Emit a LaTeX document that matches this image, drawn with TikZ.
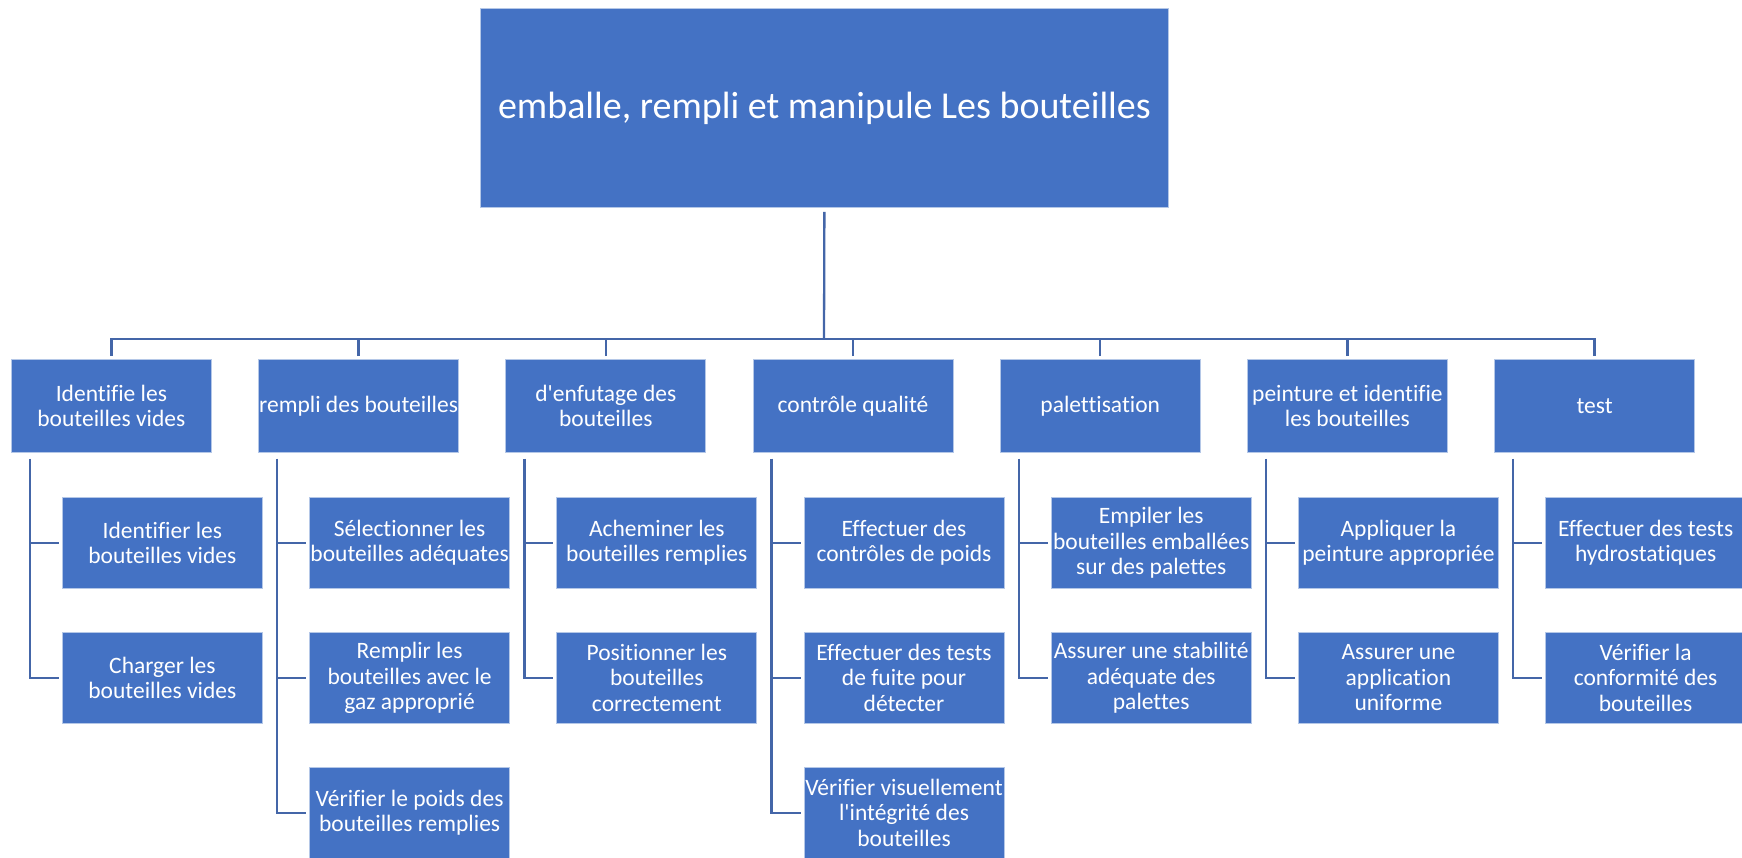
\documentclass[tikz,border=0pt]{standalone}
\usepackage{fontspec}
\newfontfamily\boxfont{Carlito}[Ligatures=NoCommon]
\begin{document}
\definecolor{boxfill}{HTML}{4472C4}
\definecolor{boxedge}{HTML}{B4C7E7}
\definecolor{linkcol}{HTML}{4466A8}
\begin{tikzpicture}[x=1pt,y=-1pt,
  box/.style={fill=boxfill,draw=boxedge,line width=0.8pt,text=white,
    minimum width=200pt,minimum height=91pt,inner sep=0pt,align=center,
    anchor=north west,font=\boxfont\fontsize{23.5}{25.6}\selectfont},
  topbox/.style={box,minimum width=200pt,minimum height=93pt},
  rootbox/.style={box,minimum width=688pt,minimum height=199pt,
    font=\boxfont\fontsize{38}{44}\selectfont},
  conn/.style={draw=linkcol,line width=2.3pt}]
\useasboundingbox (0,0) rectangle (1742,857);

% root
\node[rootbox] (root) at (480,8) {emballe, rempli et manipule Les bouteilles};
\coordinate (bus) at (824,339);
\draw[conn,shorten <=4pt] (root.south) -- (bus);

% first level
\foreach \i/\t in {0/{Identifie les\\bouteilles vides},
                   1/{rempli des bouteilles},
                   2/{d{\char"27}enfutage des\\bouteilles},
                   3/{contrôle qualité},
                   4/{palettisation},
                   5/{peinture et identifie\\les bouteilles},
                   6/{test}}{
  \node[topbox] (c\i) at ({11+247.2*\i},359) {\t};
  \draw[conn,shorten <=3pt] (c\i.north) |- (bus);
}

% second level
\foreach \i/\j/\t in {0/1/{Identifier les\\bouteilles vides},
                      0/2/{Charger les\\bouteilles vides},
                      1/1/{Sélectionner les\\bouteilles adéquates},
                      1/2/{Remplir les\\bouteilles avec le\\gaz approprié},
                      1/3/{Vérifier le poids des\\bouteilles remplies},
                      2/1/{Acheminer les\\bouteilles remplies},
                      2/2/{Positionner les\\bouteilles\\correctement},
                      3/1/{Effectuer des\\contrôles de poids},
                      3/2/{Effectuer des tests\\de fuite pour\\détecter},
                      3/3/{Vérifier visuellement\\l{\char"27}intégrité des\\bouteilles},
                      4/1/{Empiler les\\bouteilles emballées\\sur des palettes},
                      4/2/{Assurer une stabilité\\adéquate des\\palettes},
                      5/1/{Appliquer la\\peinture appropriée},
                      5/2/{Assurer une\\application\\uniforme},
                      6/1/{Effectuer des tests\\hydrostatiques},
                      6/2/{Vérifier la\\conformité des\\bouteilles}}{
  \node[box] (d\i-\j) at ({62+247.2*\i},{497+135*(\j-1)}) {\t};
  \draw[conn,shorten >=3pt] ([xshift=19pt,yshift=-6pt]c\i.south west) |- (d\i-\j.west);
}
\end{tikzpicture}
\end{document}
